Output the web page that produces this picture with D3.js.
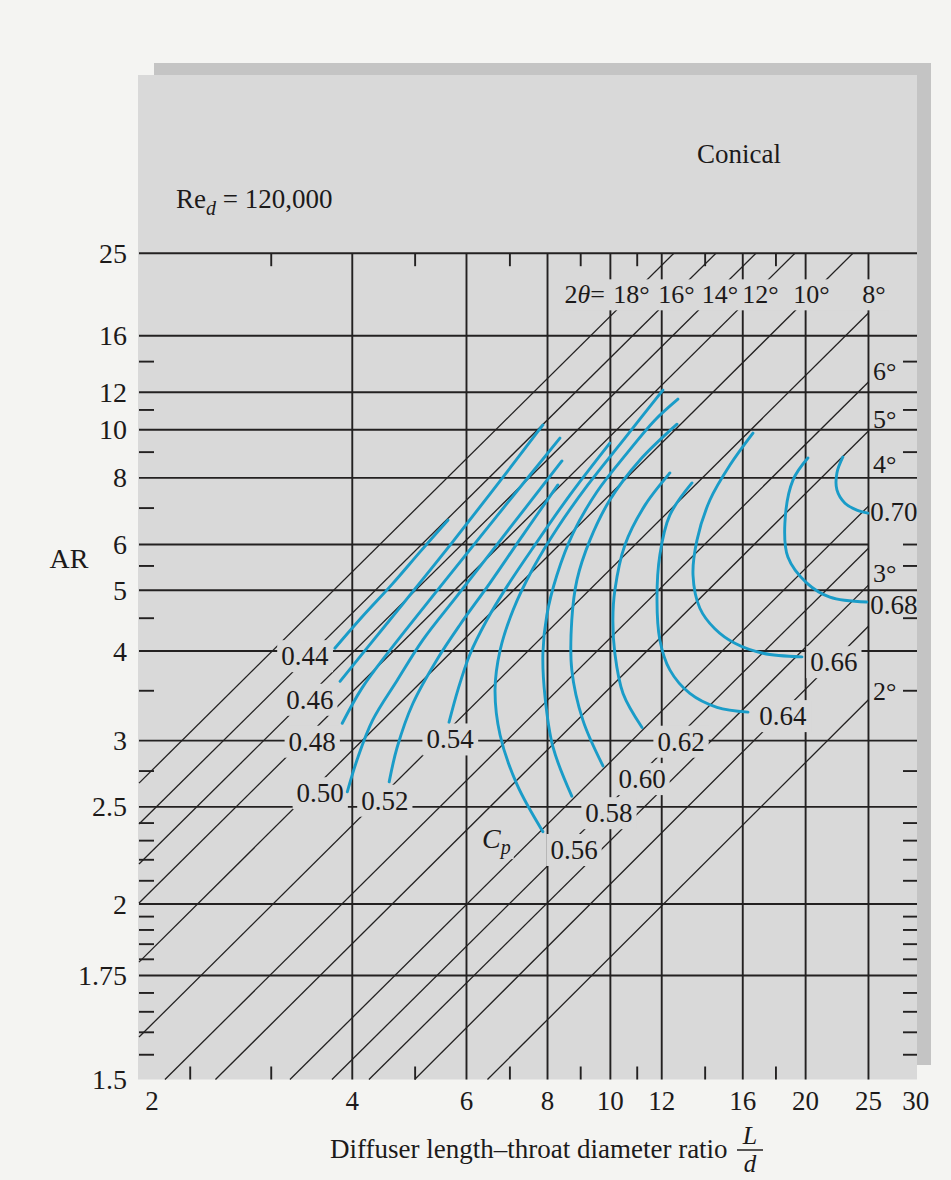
<!DOCTYPE html>
<html><head><meta charset="utf-8">
<script src="https://cdn.jsdelivr.net/npm/d3@7"></script>
<style>
body{margin:0;background:#f4f4f2;}
svg{display:block;font-family:"Liberation Serif","Times New Roman",serif;}
</style>
</head><body>
<svg id="chart" width="951" height="1180"></svg>
<script>
// ---------------- data ----------------
const xTickValues = [2, 4, 6, 8, 10, 12, 16, 20, 25, 30];
const xGridValues = [4, 6, 8, 10, 12, 16, 20, 25];
const xMinorTop = [3, 5, 7, 9, 11, 14, 18];
const xMinorBottom = [2.25, 3, 5, 7, 9, 11, 14, 18];
const yTickValues = [25, 16, 12, 10, 8, 6, 5, 4, 3, 2.5, 2, 1.75, 1.5];
const yGridValues = [25, 16, 12, 10, 8, 6, 5, 4, 3, 2.5, 2, 1.75];
const yGridShort = [6];
const yMinorLeft = [14, 11, 9, 7, 5.5, 4.5, 3.5, 2.75, 2.4, 2.3, 2.2, 2.1, 1.95, 1.9, 1.85, 1.8, 1.7, 1.65, 1.6, 1.55];
const yMinorRight = [14, 11, 9, 6, 5.5, 4.5, 3.5, 2.75, 2.4, 2.3, 2.2, 2.1, 1.95, 1.9, 1.85, 1.8, 1.7, 1.65, 1.6, 1.55];

// constant cone-angle lines (2θ), from lower end to upper end (L/d, AR)
const angleNames   = ["18°","16°","14°","12°","10°","8°","6°","5°","4°","3.5°","3°","2.5°","2°"];
const angleStartL  = [1.876,1.876,1.876,1.876,1.876,1.876,2.057,2.461,3.206,3.722,4.244,4.991,6.464];
const angleStartAR = [2.661,2.394,2.179,2.004,1.791,1.589,1.5,1.5,1.5,1.5,1.5,1.5,1.5];
const angleEndL    = [12.53,14.55,16.77,19.26,23.66,25,25,25,25,25,25,25,25];
const angleEndAR   = [25,25,25,25,25,18.04,12.63,9.94,7.06,5.91,5.10,4.37,3.40];

const topLabelText = ["18°","16°","14°","12°","10°","8°"];
const topLabelL    = [10.78,12.64,14.75,17.04,20.42,25.49];
const topLabelAR   = 19.0;
const sideLabelText = ["6°","5°","4°","3°","2°"];
const sideLabelAR   = [12.75,10.08,8.18,5.16,3.40];
const sideLabelL    = 25.4;

// Cp contours
const cpLevels  = ["0.44","0.46","0.48","0.50","0.52","0.54","0.56","0.58","0.60","0.62","0.64","0.66","0.68","0.70"];
const cpLabelL  = [3.38,3.44,3.47,3.57,4.49,5.66,8.79,9.95,11.19,12.85,18.45,22.11,27.37,27.37];
const cpLabelAR = [3.93,3.40,2.99,2.59,2.54,3.01,2.25,2.46,2.69,2.99,3.23,3.85,4.73,6.88];
const cpCurves = [
 [[3.76,4.04],[4.14,4.52],[4.61,5.12],[5.10,5.84],[5.62,6.65]],
 [[3.83,3.61],[4.57,4.47],[5.46,5.68],[6.52,7.44],[7.87,10.23]],
 [[3.86,3.16],[4.14,3.53],[4.57,4.01],[5.46,5.06],[6.76,6.88],[8.36,9.61]],
 [[3.93,2.60],[4.07,2.84],[4.30,3.19],[4.69,3.62],[5.14,4.16],[5.82,4.91],[7.00,6.43],[8.42,8.64]],
 [[4.56,2.67],[4.69,2.94],[4.96,3.36],[5.40,3.88],[5.86,4.39],[6.52,5.14],[7.33,6.24],[8.30,7.75]],
 [[5.64,3.17],[5.82,3.51],[6.07,3.95],[6.45,4.47],[6.95,5.10],[7.65,5.99],[8.66,7.41],[9.98,9.39]],
 [[7.87,2.35],[7.18,2.65],[6.76,3.05],[6.64,3.51],[6.76,4.01],[7.08,4.64],[7.60,5.45],[8.30,6.45],[9.23,7.75],[10.53,9.61],[12.05,12.13]],
 [[8.72,2.57],[8.16,2.94],[7.93,3.43],[7.87,3.97],[7.98,4.55],[8.27,5.30],[8.76,6.29],[9.53,7.51],[10.64,9.00],[11.71,10.47],[12.71,11.60]],
 [[9.74,2.79],[9.07,3.19],[8.72,3.75],[8.72,4.47],[8.88,5.20],[9.30,6.11],[9.98,7.25],[11.11,8.68],[12.67,10.27]],
 [[11.19,3.12],[10.46,3.47],[10.16,3.97],[10.09,4.47],[10.16,5.00],[10.53,5.99],[11.31,7.09],[12.35,8.18]],
 [[16.30,3.27],[14.60,3.32],[13.26,3.47],[12.35,3.75],[11.92,4.16],[11.80,4.82],[11.92,5.75],[12.35,6.79],[13.36,7.82]],
 [[19.74,3.92],[17.19,3.97],[15.56,4.11],[14.49,4.33],[13.74,4.67],[13.41,5.30],[13.60,6.11],[14.24,7.25],[15.29,8.48],[16.59,9.84]],
 [[24.86,4.78],[21.80,4.87],[20.09,5.14],[18.78,5.70],[18.58,6.56],[19.12,7.92],[20.16,8.76]],
 [[24.95,6.85],[23.99,6.94],[23.00,7.15],[22.35,7.58],[22.35,8.18],[22.83,8.80]]
];
const cpSymbolPos = [6.34, 2.26];

// ---------------- scales ----------------
const W = 951, H = 1180;
const PLOT_BG = "#d9d9d9", DARK_BG = "#c4c4c4", INK = "#232121", BLUE = "#1a9cc8";
const x = d3.scaleLog().domain([1.876, 29.7]).range([139, 917]);
// AR axis: linear in ln(sqrt(AR) - 1), so constant-angle lines are straight
const yLog = d3.scaleLog().domain([Math.sqrt(1.5) - 1, Math.sqrt(25) - 1]).range([1079.5, 253.2]);
const y = ar => yLog(Math.sqrt(ar) - 1);
const xL = x.domain()[0], xR = x.domain()[1];

const svg = d3.select("#chart");

// ---------------- background ----------------
svg.append("rect").attr("width", W).attr("height", H).attr("fill", "#f4f4f2");
svg.append("rect").attr("x", x(xL) - 1).attr("y", 75)
  .attr("width", x(xR) - x(xL) + 1).attr("height", y(1.5) - 75).attr("fill", PLOT_BG);
svg.append("rect").attr("x", 154).attr("y", 63).attr("width", 777).attr("height", 12).attr("fill", DARK_BG);
svg.append("rect").attr("x", x(xR)).attr("y", 63).attr("width", 14).attr("height", 1002).attr("fill", DARK_BG);

// ---------------- grid ----------------
const grid = svg.append("g").attr("stroke", INK).attr("stroke-width", 1.9);
grid.selectAll(".h").data(yGridValues).join("line").attr("class", "h")
  .attr("x1", x(xL)).attr("x2", d => yGridShort.includes(d) ? x(25) : x(xR))
  .attr("y1", d => y(d)).attr("y2", d => y(d));
grid.selectAll(".v").data(xGridValues).join("line").attr("class", "v")
  .attr("x1", d => x(d)).attr("x2", d => x(d))
  .attr("y1", y(25)).attr("y2", y(1.5));

// ---------------- cone-angle lines ----------------
svg.append("g").attr("stroke", INK).attr("stroke-width", 1.3)
  .selectAll("line").data(angleNames.map((n, i) => i)).join("line")
  .attr("x1", i => x(angleStartL[i])).attr("y1", i => y(angleStartAR[i]))
  .attr("x2", i => x(angleEndL[i])).attr("y2", i => y(angleEndAR[i]));

// masks (filled later from text boxes)
const maskG = svg.append("g").attr("fill", PLOT_BG);

// ---------------- Cp curves ----------------
const lineGen = d3.line().x(d => x(d[0])).y(d => y(d[1])).curve(d3.curveCatmullRom.alpha(0.5));
svg.append("g").attr("fill", "none").attr("stroke", BLUE).attr("stroke-width", 2.9)
  .attr("stroke-linecap", "round")
  .selectAll("path").data(cpCurves).join("path").attr("d", lineGen);

// ---------------- ticks ----------------
const ticks = svg.append("g").attr("stroke", INK).attr("stroke-width", 1.9);
ticks.selectAll(".tl").data(yMinorLeft).join("line").attr("class", "tl")
  .attr("x1", x(xL)).attr("x2", x(xL) + 15).attr("y1", d => y(d)).attr("y2", d => y(d));
ticks.selectAll(".tr").data(yMinorRight).join("line").attr("class", "tr")
  .attr("x1", x(xR) - 14).attr("x2", x(xR)).attr("y1", d => y(d)).attr("y2", d => y(d));
ticks.selectAll(".tt").data(xMinorTop).join("line").attr("class", "tt")
  .attr("x1", d => x(d)).attr("x2", d => x(d)).attr("y1", y(25)).attr("y2", y(25) + 13);
ticks.selectAll(".tb").data(xMinorBottom).join("line").attr("class", "tb")
  .attr("x1", d => x(d)).attr("x2", d => x(d)).attr("y1", y(1.5) - 13).attr("y2", y(1.5));

// ---------------- texts ----------------
const txt = svg.append("g").attr("fill", "#1c1a1a");

// axis tick labels
txt.selectAll(".xl").data(xTickValues).join("text").attr("class", "xl")
  .attr("x", d => x(d)).attr("y", 1110).attr("text-anchor", "middle")
  .attr("dx", d => d === 2 ? -5 : (d === 30 ? -4 : 0))
  .attr("font-size", 27).text(d => d);
txt.selectAll(".yl").data(yTickValues).join("text").attr("class", "yl")
  .attr("x", 127).attr("y", d => y(d)).attr("text-anchor", "end")
  .attr("dominant-baseline", "central").attr("font-size", 28).text(d => d);

// axis titles
txt.append("text").attr("x", 69).attr("y", 568).attr("text-anchor", "middle")
  .attr("font-size", 28).text("AR");
txt.append("text").attr("x", 330).attr("y", 1158).attr("font-size", 27)
  .text("Diffuser length\u2013throat diameter ratio");
txt.append("text").attr("x", 750).attr("y", 1144).attr("text-anchor", "middle")
  .attr("font-size", 26).attr("font-style", "italic").text("L");
txt.append("text").attr("x", 750).attr("y", 1172).attr("text-anchor", "middle")
  .attr("font-size", 25).attr("font-style", "italic").text("d");
svg.append("line").attr("x1", 737).attr("x2", 763).attr("y1", 1150).attr("y2", 1150)
  .attr("stroke", INK).attr("stroke-width", 1.5);

// headings
txt.append("text").attr("x", 697).attr("y", 163).attr("font-size", 27).text("Conical");
const re = txt.append("text").attr("x", 176).attr("y", 208).attr("font-size", 27);
re.append("tspan").text("Re");
re.append("tspan").attr("font-size", 20).attr("font-style", "italic").attr("dy", 7).text("d");
re.append("tspan").attr("dy", -7).text(" = 120,000");

// top-row angle labels
const topRow = [];
const tht = txt.append("text").attr("x", x(9.81)).attr("y", y(topLabelAR))
  .attr("text-anchor", "end").attr("font-size", 26);
tht.append("tspan").text("2");
tht.append("tspan").attr("font-style", "italic").text("\u03B8");
tht.append("tspan").text("=");
topRow.push(tht.node());
txt.selectAll(".tlab").data(topLabelText).join("text").attr("class", "tlab")
  .attr("x", (d, i) => x(topLabelL[i])).attr("y", y(topLabelAR))
  .attr("text-anchor", "middle").attr("font-size", 26).text(d => d)
  .each(function () { topRow.push(this); });

// side angle labels
txt.selectAll(".slab").data(sideLabelText).join("text").attr("class", "slab")
  .attr("x", x(sideLabelL)).attr("y", (d, i) => y(sideLabelAR[i]))
  .attr("font-size", 26).text(d => d);

// Cp labels
const cpText = txt.selectAll(".cpl").data(cpLevels).join("text").attr("class", "cpl")
  .attr("x", (d, i) => x(cpLabelL[i])).attr("y", (d, i) => y(cpLabelAR[i]))
  .attr("text-anchor", "middle").attr("dominant-baseline", "central")
  .attr("font-size", 27).text(d => d);

const cps = txt.append("text").attr("x", x(cpSymbolPos[0])).attr("y", y(cpSymbolPos[1]))
  .attr("font-size", 28).attr("font-style", "italic");
cps.append("tspan").text("C");
cps.append("tspan").attr("font-size", 20).attr("dy", 6).text("p");

// ---------------- masks behind labels ----------------
function maskFor(node, px, py) {
  const b = node.getBBox();
  maskG.append("rect").attr("x", b.x - px).attr("y", b.y - py)
    .attr("width", b.width + 2 * px).attr("height", b.height + 2 * py);
}
// top row: one continuous band
{
  const boxes = topRow.map(n => n.getBBox());
  const x0 = d3.min(boxes, b => b.x) - 4, x1 = d3.max(boxes, b => b.x + b.width) + 4;
  const y0 = d3.min(boxes, b => b.y) - 1, y1 = d3.max(boxes, b => b.y + b.height) + 1;
  maskG.append("rect").attr("x", x0).attr("y", y0).attr("width", x1 - x0).attr("height", y1 - y0);
}
cpText.each(function (d, i) { if (cpLabelL[i] < 25) maskFor(this, 4, 1); });
maskFor(cps.node(), 3, 0);
</script>
</body></html>
